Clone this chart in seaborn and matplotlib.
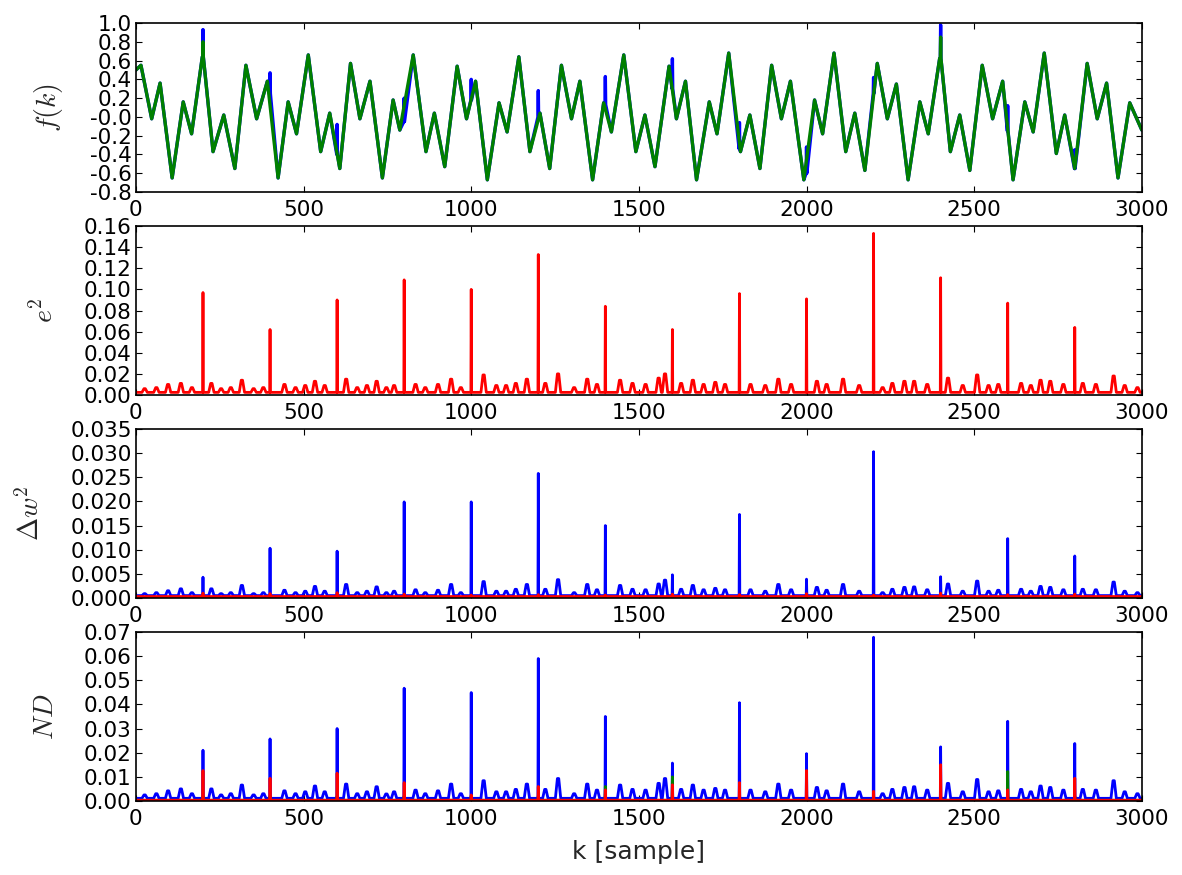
import numpy as np
import pandas as pd
import matplotlib
matplotlib.use('Agg')
import matplotlib.pyplot as plt
import seaborn as sns

sns.set_style('ticks')
plt.rcParams.update({
    'font.family': ['DejaVu Sans'],
    'mathtext.fontset': 'cm',
    'xtick.direction': 'in', 'ytick.direction': 'in',
    'xtick.top': True, 'ytick.right': True,
    'xtick.major.size': 4, 'ytick.major.size': 4,
    'xtick.major.pad': 6, 'ytick.major.pad': 3,
    'xtick.labelsize': 15.5, 'ytick.labelsize': 15.5,
    'axes.linewidth': 1.2, 'axes.edgecolor': 'black',
    'xtick.color': 'black', 'ytick.color': 'black',
    'axes.labelsize': 20,
    'lines.solid_joinstyle': 'round',
})

# ---- f(k): local extrema ----
f_k = [0, 15, 47, 72, 108, 141, 166, 198, 230, 262, 295, 328, 360, 392, 424,
       454, 479, 514, 551, 578, 608, 640, 668, 698, 735, 767, 787, 827,
       865, 890, 921, 958, 986, 1013, 1048, 1083, 1107, 1142, 1175, 1205,
       1234, 1269, 1299, 1324, 1362, 1395, 1418, 1455, 1491, 1518, 1548,
       1590, 1612, 1639, 1672, 1710, 1733, 1768, 1803, 1831, 1861, 1896,
       1925, 1952, 1992, 2024, 2048, 2082, 2117, 2144, 2174, 2211, 2241,
       2268, 2303, 2338, 2363, 2397, 2429, 2457, 2487, 2524, 2555, 2585,
       2616, 2651, 2676, 2709, 2745, 2770, 2800, 2837, 2867, 2895, 2929,
       2964, 3000]
f_val = [0.50, 0.55, -0.02, 0.36, -0.65, 0.16, -0.18, 0.64, -0.37, 0.02, -0.55,
         0.55, -0.02, 0.38, -0.65, 0.16, -0.18, 0.66, -0.37, 0.04, -0.55, 0.57,
         -0.02, 0.38, -0.65, 0.18, -0.14, 0.66,
         -0.37, 0.04, -0.53, 0.54, -0.02, 0.38, -0.67, 0.15, -0.16, 0.64, -0.37,
         0.04, -0.55, 0.55, -0.02, 0.38, -0.67, 0.15, -0.16, 0.66, -0.37, 0.02,
         -0.53, 0.54, -0.02, 0.38, -0.67, 0.16, -0.18, 0.68, -0.37, 0.02, -0.55,
         0.55, -0.02, 0.38, -0.67, 0.18, -0.18, 0.68, -0.37, 0.04, -0.57, 0.57,
         -0.02, 0.35, -0.67, 0.16, -0.18, 0.62, -0.37, 0.02, -0.57, 0.55, -0.02,
         0.38, -0.67, 0.16, -0.16, 0.68, -0.39, 0.02, -0.55, 0.57, -0.02, 0.36,
         -0.65, 0.15, -0.14]

# outliers in the measured signal (blue) and the filter's partial response (green)
spike_k = [200, 400, 600, 800, 1000, 1200, 1400, 1600, 1800, 2000, 2200, 2400, 2600, 2800]
f_spike_base = [0.64, 0.25, -0.40, -0.05, 0.18, 0.00, 0.13, 0.30, -0.34, -0.60, 0.25, 0.62, -0.15, -0.55]
f_spike_top = [0.93, 0.47, -0.08, 0.20, 0.40, 0.28, 0.43, 0.62, -0.06, -0.32, 0.42, 0.98, 0.12, -0.35]
g_spike_k = [200, 2400]
g_spike_base = [0.64, 0.62]
g_spike_top = [0.80, 0.85]

# ---- small error bumps (shared positions) ----
bump_k = [26, 61, 96, 134, 167, 225, 254, 283, 316, 351, 380, 443, 476, 505, 534,
          563, 627, 660, 689, 718, 747, 770, 834, 863, 901, 940, 969, 1037, 1075, 1104,
          1133, 1166, 1221, 1259, 1307, 1346, 1375, 1444, 1481, 1520, 1559, 1578, 1626, 1661, 1693,
          1728, 1757, 1833, 1877, 1916, 1954, 2031, 2060, 2109, 2157, 2227, 2256, 2292, 2321, 2360,
          2422, 2466, 2509, 2543, 2572, 2640, 2669, 2698, 2727, 2766, 2824, 2863, 2916, 2949, 2987]
e2_bump = [0.006, 0.007, 0.010, 0.011, 0.007, 0.011, 0.006, 0.007, 0.014, 0.006,
           0.007, 0.010, 0.007, 0.009, 0.013, 0.009, 0.015, 0.007, 0.009, 0.013,
           0.007, 0.009, 0.010, 0.007, 0.010, 0.015, 0.007, 0.019, 0.009, 0.009,
           0.011, 0.015, 0.011, 0.020, 0.007, 0.015, 0.010, 0.014, 0.011, 0.010,
           0.016, 0.020, 0.011, 0.014, 0.010, 0.012, 0.010, 0.010, 0.009, 0.015,
           0.010, 0.013, 0.010, 0.015, 0.009, 0.007, 0.011, 0.013, 0.013, 0.010,
           0.016, 0.009, 0.019, 0.009, 0.010, 0.011, 0.009, 0.014, 0.013, 0.010,
           0.011, 0.010, 0.018, 0.009, 0.007]
dw_bump = [0.0009, 0.0011, 0.0015, 0.0019, 0.0011, 0.0019, 0.0009, 0.0011, 0.0026, 0.0009,
           0.0011, 0.0016, 0.0011, 0.0014, 0.0024, 0.0014, 0.0028, 0.0011, 0.0014, 0.0023,
           0.0011, 0.0014, 0.0017, 0.0011, 0.0016, 0.0028, 0.0011, 0.0034, 0.0014, 0.0014,
           0.0018, 0.0028, 0.0018, 0.0038, 0.0011, 0.0028, 0.0017, 0.0026, 0.0018, 0.0017,
           0.0029, 0.0037, 0.0018, 0.0026, 0.0017, 0.0020, 0.0017, 0.0017, 0.0014, 0.0028,
           0.0017, 0.0022, 0.0016, 0.0028, 0.0014, 0.0011, 0.0018, 0.0022, 0.0023, 0.0017,
           0.0029, 0.0014, 0.0035, 0.0014, 0.0016, 0.0018, 0.0014, 0.0024, 0.0022, 0.0017,
           0.0018, 0.0017, 0.0033, 0.0014, 0.0011]
nd_bump = [0.0025, 0.003, 0.0042, 0.005, 0.003, 0.005, 0.0025, 0.003, 0.0066, 0.0025,
           0.003, 0.0042, 0.003, 0.0038, 0.0062, 0.0038, 0.007, 0.003, 0.0038, 0.0059,
           0.0029, 0.0038, 0.0045, 0.003, 0.0042, 0.007, 0.003, 0.0084, 0.0038, 0.0038,
           0.0048, 0.007, 0.0048, 0.0093, 0.003, 0.007, 0.0045, 0.0066, 0.0048, 0.0045,
           0.0073, 0.0093, 0.0048, 0.0066, 0.0045, 0.0052, 0.0045, 0.0045, 0.0038, 0.007,
           0.0045, 0.0056, 0.0042, 0.007, 0.0038, 0.003, 0.0048, 0.0056, 0.0059, 0.0045,
           0.0073, 0.0038, 0.0089, 0.0038, 0.0042, 0.0048, 0.0038, 0.0062, 0.0056, 0.0045,
           0.0048, 0.0045, 0.0084, 0.0038, 0.003]

# ---- spike heights at the outliers ----
e2_spike = [0.097, 0.062, 0.090, 0.109, 0.100, 0.133, 0.084, 0.062, 0.096, 0.091, 0.153, 0.111, 0.087, 0.064]
dw_blue_spike = [0.0043, 0.0103, 0.0097, 0.0199, 0.0199, 0.0258, 0.0150, 0.0048, 0.0173, 0.0039, 0.0303, 0.0044, 0.0123, 0.0087]
dw_red_spike = [0.0010, 0.0009, 0.0011, 0.0008, 0.0006, 0.0007, 0.0006, 0.0008, 0.0007, 0.0009, 0.0006, 0.0010, 0.0007, 0.0008]
nd_blue_spike = [0.021, 0.0257, 0.030, 0.0467, 0.0449, 0.059, 0.035, 0.0157, 0.0407, 0.0196, 0.0678, 0.0224, 0.033, 0.0238]
nd_red_spike = [0.0126, 0.0094, 0.0115, 0.0076, 0.0025, 0.006, 0.0046, 0.0067, 0.0076, 0.0126, 0.004, 0.015, 0.0046, 0.0094]
nd_green_spike = [0.002, 0.002, 0.002, 0.002, 0.002, 0.002, 0.006, 0.010, 0.002, 0.002, 0.002, 0.002, 0.0122, 0.002]

# baseline levels of the dense noise floor
e2_floor, dw_floor, nd_floor = 0.0025, 0.0005, 0.0011
red_floor, green_floor = 0.0003, 0.0003


def with_spikes(ks, vs, sk, lo, hi):
    pts = list(zip(ks, vs))
    for k, a, b in zip(sk, lo, hi):
        pts += [(k - 1, a), (k, b), (k + 1, a)]
    pts.sort()
    return pd.DataFrame(pts, columns=['k', 'v'])


def spiky(floor, bumps, spikes, w=8):
    pts = [(0, floor), (3000, floor)]
    if bumps is not None:
        for k, h in zip(bump_k, bumps):
            pts += [(k - w, floor), (k - 2, h), (k + 2, h), (k + w, floor)]
    for k, h in zip(spike_k, spikes):
        pts += [(k - 1, floor), (k, h), (k + 1, floor)]
    pts.sort()
    return pd.DataFrame(pts, columns=['k', 'v'])


def draw(ax, df, color, lw=2.0):
    sns.lineplot(data=df, x='k', y='v', ax=ax, color=color, lw=lw,
                 estimator=None, sort=False)


fig, axes = plt.subplots(4, 1, figsize=(11.82, 8.75), dpi=100)
fig.subplots_adjust(left=0.115, right=0.966, top=0.9737, bottom=0.0846, hspace=0.201)

ax = axes[0]
draw(ax, with_spikes(f_k, f_val, spike_k, f_spike_base, f_spike_top), 'b', 2.4)
draw(ax, with_spikes(f_k, f_val, g_spike_k, g_spike_base, g_spike_top), 'g', 2.4)
ax.set_ylim(-0.8, 1.0)
ax.set_yticks(np.arange(-0.8, 1.01, 0.2))
ax.set_ylabel(r'$f(k)$', labelpad=18)

ax = axes[1]
draw(ax, spiky(e2_floor, e2_bump, e2_spike), 'r')
ax.set_ylim(0, 0.16)
ax.set_yticks(np.arange(0, 0.161, 0.02))
ax.set_ylabel(r'$e^2$', labelpad=18)

ax = axes[2]
draw(ax, spiky(dw_floor, dw_bump, dw_blue_spike), 'b')
draw(ax, spiky(red_floor, None, dw_red_spike), 'r')
ax.set_ylim(0, 0.035)
ax.set_yticks(np.arange(0, 0.0351, 0.005))
ax.set_ylabel(r'$\Delta w^2$', labelpad=18)

ax = axes[3]
draw(ax, spiky(nd_floor, nd_bump, nd_blue_spike), 'b')
draw(ax, spiky(green_floor, None, nd_green_spike), 'g')
draw(ax, spiky(red_floor, None, nd_red_spike), 'r')
ax.set_ylim(0, 0.07)
ax.set_yticks(np.arange(0, 0.0701, 0.01))
ax.set_ylabel(r'$ND$', labelpad=18)

for ax in axes:
    ax.set_xlim(0, 3000)
    ax.set_xticks(range(0, 3001, 500))
    ax.set_xlabel('')
axes[0].yaxis.set_major_formatter(matplotlib.ticker.FormatStrFormatter('%.1f'))
axes[1].yaxis.set_major_formatter(matplotlib.ticker.FormatStrFormatter('%.2f'))
axes[2].yaxis.set_major_formatter(matplotlib.ticker.FormatStrFormatter('%.3f'))
axes[3].yaxis.set_major_formatter(matplotlib.ticker.FormatStrFormatter('%.2f'))
axes[3].set_xlabel('k [sample]', fontsize=18, labelpad=8)

fig.savefig('out.png', dpi=100)
